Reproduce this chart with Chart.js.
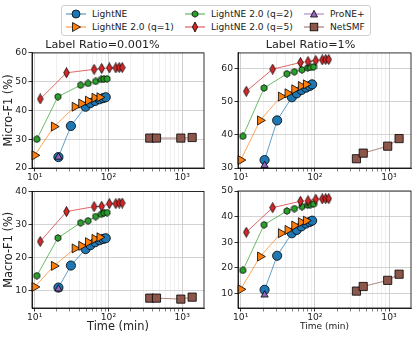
<!DOCTYPE html>
<html>
<head>
<meta charset="utf-8">
<script src="https://cdn.jsdelivr.net/npm/chart.js@4.4.0/dist/chart.umd.min.js"></script>
<style>
  body { margin: 0; background: #fff; }
  #wrap { position: relative; width: 416px; height: 337px; font-family: "DejaVu Sans", sans-serif; }
  #wrap canvas { position: absolute; left: 0; top: 0; }
  .legend {
    position: absolute; left: 61px; top: 5px; width: 308px; height: 29px;
    border: 1px solid #d0d0d0; border-radius: 3px; background: #fff;
    font-size: 9.1px; color: #222; z-index: 10;
  }
  .item { position: absolute; height: 12px; line-height: 12px; white-space: nowrap; }
  .item svg { position: absolute; left: 0; top: 0; }
  .item span { position: absolute; left: 27px; top: 0; }
</style>
</head>
<body>
<div id="wrap">
  <canvas id="c0" width="416" height="337"></canvas>
  <canvas id="c1" width="416" height="337"></canvas>
  <canvas id="c2" width="416" height="337"></canvas>
  <canvas id="c3" width="416" height="337"></canvas>
  <div class="legend" id="legend"></div>
</div>
<script>
// method names and colours
const methods = ['LightNE', 'LightNE 2.0 (q=1)', 'LightNE 2.0 (q=2)', 'LightNE 2.0 (q=5)', 'ProNE+', 'NetSMF'];
const colors = ['#1f77b4', '#ff7f0e', '#2ca02c', '#d62728', '#9467bd', '#8c564b'];

// running time (min) of each configuration
const timeLightNE = [21, 31, 49, 57, 66, 76, 85, 92];
const timeQ1 = [10, 18.3, 35, 43, 53, 65, 76];
const timeQ2 = [10.7, 20.7, 42, 53, 67, 80, 87, 96];
const timeQ5 = [11.9, 27, 64, 81, 103, 126, 140, 154];
const timeProne = [21];
const timeNetsmf = [364, 449, 960, 1368];

// Micro-F1, label ratio 0.001%
const microLowLightNE = [23.8, 34.6, 41.3, 42.6, 43.3, 43.9, 44.3, 44.6];
const microLowQ1 = [24.4, 34.4, 41.3, 42.4, 43.4, 44.4, 44.6];
const microLowQ2 = [30.0, 44.8, 48.8, 49.4, 50.1, 50.8, 50.9, 51.0];
const microLowQ5 = [44.0, 53.1, 54.3, 54.6, 54.8, 54.8, 54.9, 54.9];
const microLowProne = [23.8];
const microLowNetsmf = [30.4, 30.4, 30.4, 30.6];

// Micro-F1, label ratio 1%
const microHighLightNE = [32.4, 44.4, 51.4, 52.6, 53.6, 54.3, 54.8, 55.3];
const microHighQ1 = [32.4, 44.4, 51.6, 52.6, 53.8, 54.8, 55.3];
const microHighQ2 = [39.6, 54.2, 58.5, 59.1, 59.7, 60.3, 60.4, 60.6];
const microHighQ5 = [53.2, 59.9, 61.9, 62.2, 62.5, 62.7, 62.8, 62.8];
const microHighProne = [30.8];
const microHighNetsmf = [32.8, 34.5, 36.6, 38.9];

// Macro-F1, label ratio 0.001%
const macroLowLightNE = [10.8, 17.5, 22.5, 23.7, 24.6, 25.2, 25.6, 25.8];
const macroLowQ1 = [11.0, 17.4, 22.7, 23.5, 24.6, 25.6, 26.1];
const macroLowQ2 = [14.4, 25.9, 30.5, 31.1, 32.4, 33.1, 33.5, 33.6];
const macroLowQ5 = [24.8, 33.9, 35.4, 35.5, 36.3, 36.3, 36.5, 36.5];
const macroLowProne = [10.4];
const macroLowNetsmf = [7.6, 7.6, 7.3, 7.9];

// Macro-F1, label ratio 1%
const macroHighLightNE = [11.4, 24.7, 33.5, 34.8, 36.2, 37.3, 37.9, 38.4];
const macroHighQ1 = [11.6, 24.4, 33.5, 34.8, 36.5, 37.8, 38.4];
const macroHighQ2 = [19.0, 36.8, 42.2, 43.1, 43.9, 44.5, 44.7, 44.9];
const macroHighQ5 = [33.9, 43.5, 46.0, 46.2, 46.8, 46.9, 47.0, 47.0];
const macroHighProne = [9.4];
const macroHighNetsmf = [10.9, 12.7, 15.1, 17.5];

// axis ticks
const xMin = 9.2, xMax = 1980;
const xMajorTicks = [10, 100, 1000];
const xMajorLabels = ['10\u00b9', '10\u00b2', '10\u00b3'];
const xMinorSteps = [2, 3, 4, 5, 6, 7, 8, 9];

const times = [timeLightNE, timeQ1, timeQ2, timeQ5, timeProne, timeNetsmf];

let xTicks = [];
xMajorTicks.forEach(d => {
    xTicks.push(d);
    xMinorSteps.forEach(s => { if (d * s <= xMax) xTicks.push(d * s); });
});

// custom markers
function polyMarker(w, h, pts, fill) {
    const c = document.createElement('canvas');
    c.width = w; c.height = h;
    const g = c.getContext('2d');
    g.beginPath();
    pts.forEach((p, i) => i ? g.lineTo(p[0], p[1]) : g.moveTo(p[0], p[1]));
    g.closePath();
    g.fillStyle = fill; g.fill();
    g.lineWidth = 0.8; g.strokeStyle = '#000'; g.stroke();
    return c;
}
const hexMarker = (() => {
    const pts = [];
    for (let i = 0; i < 6; i++) {
        const a = Math.PI / 2 + i * Math.PI / 3;
        pts.push([4 + 3.4 * Math.cos(a), 4 + 3.4 * Math.sin(a)]);
    }
    return polyMarker(8, 8, pts, colors[2]);
})();
const diamondMarker = polyMarker(7, 11, [[3.5, 0.5], [6.3, 5.5], [3.5, 10.5], [0.7, 5.5]], colors[3]);

const markerStyle = [
    { pointStyle: 'circle', radius: 4.6, rotation: 0 },
    { pointStyle: 'triangle', radius: 5.2, rotation: 90 },
    { pointStyle: hexMarker, radius: 4, rotation: 0 },
    { pointStyle: diamondMarker, radius: 5, rotation: 0 },
    { pointStyle: 'triangle', radius: 4.2, rotation: 0 },
    { pointStyle: 'rect', radius: 5.8, rotation: 0 }
];

function fade(hex, a) {
    const n = parseInt(hex.slice(1), 16);
    return `rgba(${n >> 16},${(n >> 8) & 255},${n & 255},${a})`;
}

function makeDatasets(series) {
    return series.map((vals, i) => ({
        label: methods[i],
        data: vals.map((v, j) => ({ x: times[i][j], y: v })),
        borderColor: fade(colors[i], 0.7),
        borderWidth: 1,
        backgroundColor: colors[i],
        pointBackgroundColor: colors[i],
        pointBorderColor: '#000',
        pointBorderWidth: 0.8,
        pointStyle: markerStyle[i].pointStyle,
        pointRadius: markerStyle[i].radius,
        pointRotation: markerStyle[i].rotation,
        showLine: true,
        clip: false,
        order: -i
    }));
}

// frame around the plot area
const framePlugin = {
    id: 'frame',
    afterDatasetsDraw(chart) {
        const a = chart.chartArea, ctx = chart.ctx;
        ctx.save();
        ctx.strokeStyle = '#000';
        ctx.lineWidth = 0.8;
        ctx.strokeRect(a.left, a.top, a.right - a.left, a.bottom - a.top);
        ctx.restore();
    }
};

const panels = [
    { id: 'c0', series: [microLowLightNE, microLowQ1, microLowQ2, microLowQ5, microLowProne, microLowNetsmf],
      yMin: 20, yMax: 60, title: 'Label Ratio=0.001%', yTitle: 'Micro-F1 (%)', xTitle: null,
      left: 1, yWidth: 31, top: 36.5, right: 212, bottom: 149, xHeight: 20 },
    { id: 'c1', series: [microHighLightNE, microHighQ1, microHighQ2, microHighQ5, microHighProne, microHighNetsmf],
      yMin: 30, yMax: 64.8, title: 'Label Ratio=1%', yTitle: null, xTitle: null,
      left: 210, yWidth: 28, top: 36.5, right: 5, bottom: 149, xHeight: 20 },
    { id: 'c2', series: [macroLowLightNE, macroLowQ1, macroLowQ2, macroLowQ5, macroLowProne, macroLowNetsmf],
      yMin: 4.6, yMax: 40, title: null, yTitle: 'Macro-F1 (%)', xTitle: 'Time (min)', xTitleSize: 11.4,
      left: 1, yWidth: 31, top: 191.5, right: 212, bottom: 1, xHeight: 28 },
    { id: 'c3', series: [macroHighLightNE, macroHighQ1, macroHighQ2, macroHighQ5, macroHighProne, macroHighNetsmf],
      yMin: 4.3, yMax: 50, title: null, yTitle: null, xTitle: 'Time (min)', xTitleSize: 9,
      left: 210, yWidth: 28, top: 191, right: 5, bottom: 1, xHeight: 28 }
];

const tickFont = { family: 'DejaVu Sans', size: 9.2 };

panels.forEach(p => {
    new Chart(document.getElementById(p.id), {
        type: 'scatter',
        data: { datasets: makeDatasets(p.series) },
        options: {
            responsive: false,
            animation: false,
            devicePixelRatio: 1,
            layout: { autoPadding: false, padding: { left: p.left, top: p.top, right: p.right, bottom: p.bottom } },
            plugins: {
                legend: { display: false },
                tooltip: { enabled: false },
                title: {
                    display: !!p.title, text: p.title || '', color: '#222',
                    font: { family: 'DejaVu Sans', size: 11.2, weight: 'normal', lineHeight: 1.2 },
                    padding: { top: 2, bottom: 1 }
                }
            },
            scales: {
                x: {
                    type: 'logarithmic', min: xMin, max: xMax,
                    afterBuildTicks: s => { s.ticks = xTicks.map(v => ({ value: v })); },
                    afterFit: s => { s.height = p.xHeight; },
                    border: { display: true, color: '#000', width: 0.8 },
                    grid: {
                        color: c => (c.tick && xMajorTicks.includes(c.tick.value)) ? '#c4c4c4' : '#ececec',
                        lineWidth: 0.8,
                        tickColor: c => (c.tick && xMajorTicks.includes(c.tick.value)) ? '#000' : '#666',
                        tickLength: 3.5
                    },
                    ticks: {
                        autoSkip: false, maxRotation: 0, padding: 1, color: '#222', font: tickFont,
                        callback: v => { const k = xMajorTicks.indexOf(v); return k >= 0 ? xMajorLabels[k] : ''; }
                    },
                    title: {
                        display: !!p.xTitle, text: p.xTitle || '', color: '#222',
                        font: { family: 'DejaVu Sans', size: p.xTitleSize || 11, lineHeight: 1.2 },
                        padding: { top: 0, bottom: (p.xTitleSize || 11) > 10 ? 2.5 : 3.7 }
                    }
                },
                y: {
                    min: p.yMin, max: p.yMax,
                    afterFit: s => { s.width = p.yWidth; },
                    border: { display: true, color: '#000', width: 0.8 },
                    grid: { color: '#c8c8c8', lineWidth: 0.8, tickColor: '#000', tickLength: 3.5 },
                    ticks: { stepSize: 10, includeBounds: false, padding: 1.5, color: '#222', font: tickFont },
                    title: {
                        display: !!p.yTitle, text: p.yTitle || '', color: '#222',
                        font: { family: 'DejaVu Sans', size: 11.4, lineHeight: 1.2 },
                        padding: { top: 1.5, bottom: 0 }
                    }
                }
            }
        },
        plugins: [framePlugin]
    });
});

// legend
const legendPos = [[0, 0], [0, 1], [1, 0], [1, 1], [2, 0], [2, 1]];
const colX = [3, 122, 241];
const rowY = [1.5, 14.5];
const svgMarks = [
    c => `<circle cx="11" cy="6" r="4" fill="${c}" stroke="#000" stroke-width="0.8"/>`,
    c => `<polygon points="15.5,6 7.5,1.5 7.5,10.5" fill="${c}" stroke="#000" stroke-width="0.8"/>`,
    c => `<polygon points="11,2.8 13.8,4.4 13.8,7.6 11,9.2 8.2,7.6 8.2,4.4" fill="${c}" stroke="#000" stroke-width="0.8"/>`,
    c => `<polygon points="11,1 13.6,6 11,11 8.4,6" fill="${c}" stroke="#000" stroke-width="0.8"/>`,
    c => `<polygon points="11,2.3 14.5,9 7.5,9" fill="${c}" stroke="#000" stroke-width="0.8"/>`,
    c => `<rect x="7.2" y="2.2" width="7.6" height="7.6" fill="${c}" stroke="#000" stroke-width="0.8"/>`
];
const legend = document.getElementById('legend');
methods.forEach((m, i) => {
    const [col, row] = legendPos[i];
    const d = document.createElement('div');
    d.className = 'item';
    d.style.left = colX[col] + 'px';
    d.style.top = rowY[row] + 'px';
    d.innerHTML = `<svg width="24" height="12"><line x1="1" y1="6" x2="21" y2="6" stroke="${fade(colors[i], 0.45)}" stroke-width="2"/>${svgMarks[i](colors[i])}</svg><span>${m}</span>`;
    legend.appendChild(d);
});
</script>
</body>
</html>
